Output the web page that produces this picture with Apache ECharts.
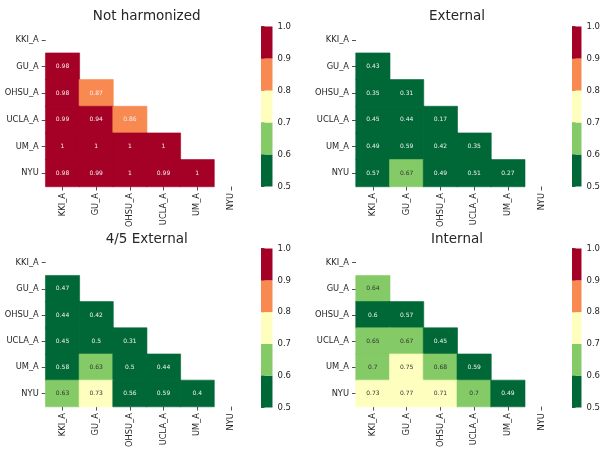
<!DOCTYPE html>
<html>
<head>
<meta charset="utf-8">
<script src="https://cdn.jsdelivr.net/npm/echarts@6/dist/echarts.min.js"></script>
<style>
html,body{margin:0;padding:0;background:#fff;}
#chart{width:603px;height:450px;}
</style>
</head>
<body>
<div id="chart"></div>
<script>
// ---- data ----
const sites = ['KKI_A', 'GU_A', 'OHSU_A', 'UCLA_A', 'UM_A', 'NYU'];
const titles = ['Not harmonized', 'External', '4/5 External', 'Internal'];
const colorbarTicks = [0.5, 0.6, 0.7, 0.8, 0.9, 1.0];
const binColors = ['#006837', '#84ca66', '#feffbe', '#f88950', '#a50026'];

// lower-triangle rows: GU_A, OHSU_A, UCLA_A, UM_A, NYU
const notHarmonized = [
  [0.98],
  [0.98, 0.87],
  [0.99, 0.94, 0.86],
  [1, 1, 1, 1],
  [0.98, 0.99, 1, 0.99, 1]
];
const external = [
  [0.43],
  [0.35, 0.31],
  [0.45, 0.44, 0.17],
  [0.49, 0.59, 0.42, 0.35],
  [0.57, 0.67, 0.49, 0.51, 0.27]
];
const external45 = [
  [0.47],
  [0.44, 0.42],
  [0.45, 0.5, 0.31],
  [0.58, 0.63, 0.5, 0.44],
  [0.63, 0.73, 0.56, 0.59, 0.4]
];
const internal = [
  [0.64],
  [0.598, 0.57],
  [0.65, 0.67, 0.45],
  [0.698, 0.75, 0.68, 0.59],
  [0.73, 0.77, 0.71, 0.698, 0.49]
];
const panelsData = [notHarmonized, external, external45, internal];

// ---- layout ----
const heatGrids = [
  {left: 45.7, top: 26.5, width: 202, height: 160},
  {left: 356, top: 26.5, width: 202.5, height: 160},
  {left: 45.7, top: 249.5, width: 202, height: 158},
  {left: 356, top: 249.5, width: 202.5, height: 158}
];
const cbGrids = [
  {left: 261, top: 26.5, width: 11.5, height: 160},
  {left: 572, top: 26.5, width: 11.5, height: 160},
  {left: 261, top: 248.5, width: 11.5, height: 159},
  {left: 572, top: 248.5, width: 11.5, height: 159}
];
const titlePos = [
  {x: 146.7, y: 9},
  {x: 457, y: 9},
  {x: 146.7, y: 232},
  {x: 457, y: 232}
];

const FONT = 'DejaVu Sans';
const TXT = '#262626';

function binIndex(v) {
  for (let i = 1; i < colorbarTicks.length - 1; i++) {
    if (v < colorbarTicks[i]) return i - 1;
  }
  return binColors.length - 1;
}
function fmt(v) { return String(Number(v.toFixed(2))); }

const grid = [], xAxis = [], yAxis = [], series = [], title = [], visualMap = [];

panelsData.forEach((rows, p) => {
  const hg = 2 * p, cg = 2 * p + 1;
  grid.push(Object.assign({containLabel: false}, heatGrids[p]));
  grid.push(Object.assign({containLabel: false}, cbGrids[p]));

  title.push({
    text: titles[p], left: titlePos[p].x, top: titlePos[p].y, textAlign: 'center', padding: 0,
    textStyle: {fontFamily: FONT, fontSize: 13.5, fontWeight: 'normal', color: TXT}
  });

  // heatmap axes
  xAxis.push({
    type: 'category', gridIndex: hg, data: sites, position: 'bottom',
    axisLine: {show: false}, splitLine: {show: false}, splitArea: {show: false},
    axisTick: {show: true, alignWithLabel: true, length: 4, lineStyle: {color: TXT, width: 0.8}},
    axisLabel: {rotate: 90, margin: 6.5, fontFamily: FONT, fontSize: 8.3, color: TXT, interval: 0}
  });
  yAxis.push({
    type: 'category', gridIndex: hg, data: sites, inverse: true,
    axisLine: {show: false}, splitLine: {show: false}, splitArea: {show: false},
    axisTick: {show: true, alignWithLabel: true, length: 4, lineStyle: {color: TXT, width: 0.8}},
    axisLabel: {margin: 7, fontFamily: FONT, fontSize: 8.3, color: TXT, interval: 0}
  });
  // colorbar axes
  xAxis.push({
    type: 'value', gridIndex: cg, min: 0, max: 1, show: false
  });
  yAxis.push({
    type: 'value', gridIndex: cg, min: 0.5, max: 1.0, interval: 0.1, position: 'right',
    axisLine: {show: false}, splitLine: {show: false},
    axisTick: {show: true, length: 3.5, lineStyle: {color: TXT, width: 0.8}},
    axisLabel: {margin: 5, fontFamily: FONT, fontSize: 8.5, color: TXT, formatter: v => v.toFixed(1)}
  });

  const data = [];
  rows.forEach((r, i) => {
    r.forEach((v, j) => {
      const b = binIndex(v);
      data.push({
        value: [j, i + 1, v],
        itemStyle: {borderColor: binColors[b], borderWidth: 0.6},
        label: {color: (b === 1 || b === 2) ? '#333' : '#f0f0f0'}
      });
    });
  });

  series.push({
    type: 'heatmap', xAxisIndex: hg, yAxisIndex: hg, data: data,
    label: {show: true, fontFamily: FONT, fontSize: 6, formatter: prm => fmt(prm.value[2])},
    emphasis: {disabled: true}
  });
  const hSeriesIndex = series.length - 1;
  visualMap.push({
    type: 'piecewise', show: false, seriesIndex: hSeriesIndex, dimension: 2,
    pieces: binColors.map((c, k) => {
      const piece = {color: c};
      if (k > 0) piece.gte = colorbarTicks[k];
      if (k < binColors.length - 1) piece.lt = colorbarTicks[k + 1];
      return piece;
    })
  });

  // colorbar
  const cbData = binColors.map((c, k) => [colorbarTicks[k], colorbarTicks[k + 1], k]);
  series.push({
    type: 'custom', xAxisIndex: cg, yAxisIndex: cg, data: cbData, silent: true,
    renderItem: (params, api) => {
      const lo = api.value(0), hi = api.value(1), k = api.value(2);
      const p1 = api.coord([0, hi]);
      const p2 = api.coord([1, lo]);
      return {
        type: 'rect',
        shape: {x: p1[0], y: p1[1], width: p2[0] - p1[0], height: p2[1] - p1[1]},
        style: {fill: binColors[k]}
      };
    }
  });
});

const chart = echarts.init(document.getElementById('chart'), null, {renderer: 'canvas'});
chart.setOption({
  animation: false,
  backgroundColor: '#fff',
  title, grid, xAxis, yAxis, visualMap, series
});
</script>
</body>
</html>
